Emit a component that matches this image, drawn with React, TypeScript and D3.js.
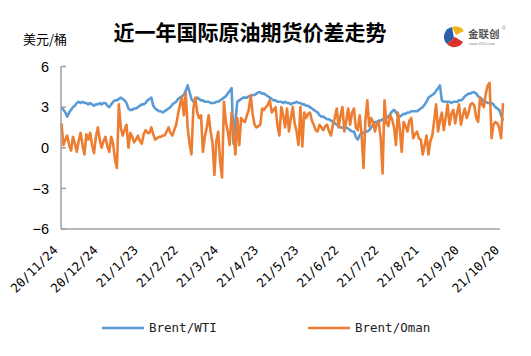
import React from "react";
import * as d3 from "d3";

const xLabels = ["20/11/24", "20/12/24", "21/1/23", "21/2/22", "21/3/24", "21/4/23", "21/5/23", "21/6/22", "21/7/22", "21/8/21", "21/9/20", "21/10/20"];
const yTicks = [6, 3, 0, -3, -6];

const brentWti = [
  3.0, 2.8, 2.6, 2.3, 2.6, 2.8, 3.0, 3.1, 3.3, 3.4, 3.3, 3.4, 3.3, 3.3, 3.2, 3.3, 3.2, 3.1, 3.2, 3.2, 3.3,
  3.2, 3.3, 3.3, 3.1, 3.0, 3.2, 3.4, 3.5, 3.5, 3.6, 3.7, 3.6, 3.5, 3.3, 2.9, 2.8, 2.8, 2.9, 2.9, 3.0, 3.1,
  3.2, 3.2, 3.3, 3.5, 3.6, 3.7, 3.1, 2.9, 2.8, 2.7, 2.7, 2.6, 2.7, 2.8, 2.9, 3.0, 3.2, 3.3, 3.4, 3.6, 3.7,
  3.8, 3.9, 4.2, 4.6, 4.1, 3.6, 3.4, 3.5, 3.7, 3.6, 3.5, 3.5, 3.4, 3.4, 3.4, 3.3, 3.3, 3.3, 3.4, 3.4, 3.5,
  3.6, 3.7, 3.8, 4.0, 4.2, 4.4, 0.3, 2.0, 3.4, 3.5, 3.6, 3.7, 3.7, 3.7, 3.8, 3.8, 3.9, 3.9, 4.0, 4.1, 4.1,
  4.0, 4.0, 3.9, 3.8, 3.7, 3.6, 3.5, 3.5, 3.4, 3.4, 3.4, 3.3, 3.4, 3.3, 3.3, 3.2, 3.3, 3.3, 3.4, 3.3, 3.3,
  3.2, 3.2, 3.1, 3.1, 3.0, 2.9, 2.8, 2.7, 2.6, 2.4, 2.3, 2.3, 2.2, 2.1, 2.1, 2.0, 1.9, 1.8, 1.7, 1.6, 1.5,
  1.5, 1.4, 1.5, 1.4, 1.3, 1.2, 1.2, 0.8, 0.6, 0.9, 1.1, 1.1, 1.2, 1.2, 1.3, 1.5, 1.7, 1.9, 1.9, 2.0, 2.0,
  2.1, 2.1, 2.2, 2.3, 2.5, 2.7, 2.8, 2.6, 2.4, 2.3, 2.4, 2.5, 2.5, 2.6, 2.6, 2.7, 2.7, 2.7, 2.7, 2.8, 2.9,
  3.0, 3.2, 3.4, 3.7, 3.8, 3.9, 4.0, 4.2, 4.4, 4.6, 3.5, 3.4, 3.4, 3.4, 3.4, 3.3, 3.4, 3.4, 3.4, 3.5, 3.5,
  3.6, 3.8, 3.9, 4.0, 4.0, 4.1, 4.1, 4.0, 3.8, 3.7, 3.6, 3.4, 3.4, 3.3, 3.3, 3.3, 3.2, 3.0, 2.9, 2.8, 2.4,
  2.0,
];

const brentOman = [
  1.8, 0.2, 0.6, 0.9, 0.2, -0.2, 0.8, 0.3, -0.3, 0.5, 1.1, 0.2, -0.5, 1.0, 0.6, 1.1, 0.2, -0.4, 0.8, 1.5, 0.6,
  0.0, 0.5, 0.8, 0.1, -0.3, 0.8, 0.3, -0.9, -1.5, 3.2, 1.5, 0.9, 1.3, 1.7, 0.0, 1.1, 0.8, 0.4, 0.6, 0.9, 0.5,
  0.3, 1.0, 1.3, 1.1, 1.1, 1.5, 1.0, 0.6, 0.7, 0.8, 0.8, 0.9, 0.9, 1.2, 1.5, 1.1, 0.9, 1.3, 1.7, 2.5, 3.2,
  3.7, 2.4, 4.0, 1.5, 0.3, -0.5, 2.9, 3.7, 2.6, 2.2, 2.4, -0.3, 0.8, 1.5, 2.4, 1.2, 0.4, -2.0, 0.5, 1.2, -1.0,
  -2.2, 3.4, 1.9, 1.2, 0.2, 2.6, 1.0, -0.5, 2.2, 0.2, 2.2, 2.0, 1.9, 2.4, 2.8, 3.9, 2.5, 1.7, 1.5, 1.6, 1.7,
  2.9, 2.8, 3.0, 3.2, 3.5, 2.6, 2.8, 3.0, 1.6, 0.9, 3.0, 2.4, 1.5, 2.9, 1.2, 2.2, 3.0, 1.8, 1.2, 0.2, 3.0,
  0.1, 2.6, 2.2, 2.5, 2.6, 2.0, 1.7, 1.3, 1.2, 1.7, 1.5, 1.3, 1.6, 1.7, 1.2, 0.9, 1.7, 2.2, 2.9, 1.5, 2.4,
  3.0, 1.2, 2.0, 2.9, 1.7, 2.6, 2.9, 1.5, 1.3, 2.4, 1.0, -1.5, 2.0, 3.5, 1.6, 2.2, 1.9, 1.2, 1.8, 1.9, 0.7,
  -1.9, 3.5, 1.8, 1.6, 2.4, 2.1, 1.5, 0.2, 2.6, 1.4, -0.3, 1.9, 1.6, 1.2, 2.0, 2.2, 0.7, 1.0, 1.2, 0.7, 0.6,
  -0.5, 0.2, 0.9, -0.5, 0.5, 0.9, 2.0, 3.2, 1.2, 2.0, 2.6, 1.3, 2.2, 3.2, 1.7, 2.5, 2.8, 1.8, 2.6, 3.2, 1.7,
  2.4, 2.9, 2.2, 2.6, 3.2, 3.3, 3.1, 2.2, 1.9, 3.7, 3.2, 3.0, 4.0, 4.6, 4.8, 0.7, 1.7, 1.9, 1.8, 1.5, 0.7,
  3.3,
];

const seriesNames = ["Brent/WTI", "Brent/Oman"];
const colors = ["#5B9BD5", "#ED7D31"];

export default function App() {
  const W = 531, H = 356;
  const left = 61, right = 500, top = 66.5, bottom = 229;
  const n = brentWti.length;
  const x = d3.scaleLinear().domain([0, n - 1]).range([left + 0.5, 503]);
  const y = d3.scaleLinear().domain([-6, 6]).range([bottom, top]);
  const line = d3.line<number>().x((_, i) => x(i)).y((d) => y(d));
  const labelStep = 21;
  const axisColor = "#a0a0a0";
  const sans = "Arial, 'Liberation Sans', sans-serif";
  const mono = "'DejaVu Sans Mono', 'Liberation Mono', monospace";

  return (
    <svg width={W} height={H} style={{ position: "absolute", left: 0, top: 0, background: "#fff" }} fontFamily={sans}>
      <rect width={W} height={H} fill="#fff" />
      {/* title */}
      <text x={250} y={40} textAnchor="middle" fontSize={21} fontWeight="bold" fill="#000" fontFamily="'Noto Sans CJK SC', sans-serif">
        近一年国际原油期货价差走势
      </text>
      <text x={23} y={44} fontSize={13} fill="#000" fontFamily="'Noto Sans CJK SC', sans-serif">美元/桶</text>

      {/* logo */}
      <g>
        <path d="M452,27 A10,10 0 0,0 447,44 L454,38 Z" fill="#2b5fa8" />
        <path d="M447,44 A10,10 0 0,0 463,42 L455,37 Z" fill="#d9342b" />
        <path d="M452,27 A10,10 0 0,1 464,31 L456,35 Z" fill="#f2b21c" />
        <text x={468} y={38} fontSize={10.5} fill="#555" fontFamily="'Noto Sans CJK SC', sans-serif" fontWeight="bold">金联创</text>
        <text x={469} y={45} fontSize={4} fill="#888">www.315i.com</text>
        <text x={502} y={30} fontSize={5} fill="#888">®</text>
      </g>

      {/* series lines */}
      {[brentWti, brentOman].map((s, k) => (
        <path key={k} d={line(s) || ""} fill="none" stroke={colors[k]} strokeWidth={2.6} strokeLinejoin="round" />
      ))}

      {/* axes */}
      <line x1={left} x2={left} y1={top} y2={bottom} stroke={axisColor} strokeWidth={1.5} />
      <line x1={left} x2={right} y1={bottom} y2={bottom} stroke={axisColor} strokeWidth={1.5} />
      {yTicks.map((t) => (
        <g key={t}>
          <line x1={left} x2={left + 5} y1={y(t)} y2={y(t)} stroke={axisColor} strokeWidth={1.5} />
          <text x={49} y={y(t)} dy="0.36em" textAnchor="end" fontSize={14.5} fill="#000">
            {t < 0 ? "\u2212" + Math.abs(t) : String(t)}
          </text>
        </g>
      ))}
      {xLabels.map((lab, j) => {
        const xi = x(j * labelStep);
        return (
          <text key={lab} transform={`translate(${xi - 3},${251}) rotate(-45)`} textAnchor="end" fontSize={12.5} fill="#000" fontFamily={mono}>
            {lab}
          </text>
        );
      })}

      {/* legend */}
      {seriesNames.map((name, k) => {
        const lx = k === 0 ? 102 : 308;
        return (
          <g key={name}>
            <line x1={lx} x2={lx + 42} y1={328} y2={328} stroke={colors[k]} strokeWidth={2.5} />
            <text x={lx + 47} y={332} fontSize={12.5} fill="#222" fontFamily={mono}>{name}</text>
          </g>
        );
      })}
    </svg>
  );
}
